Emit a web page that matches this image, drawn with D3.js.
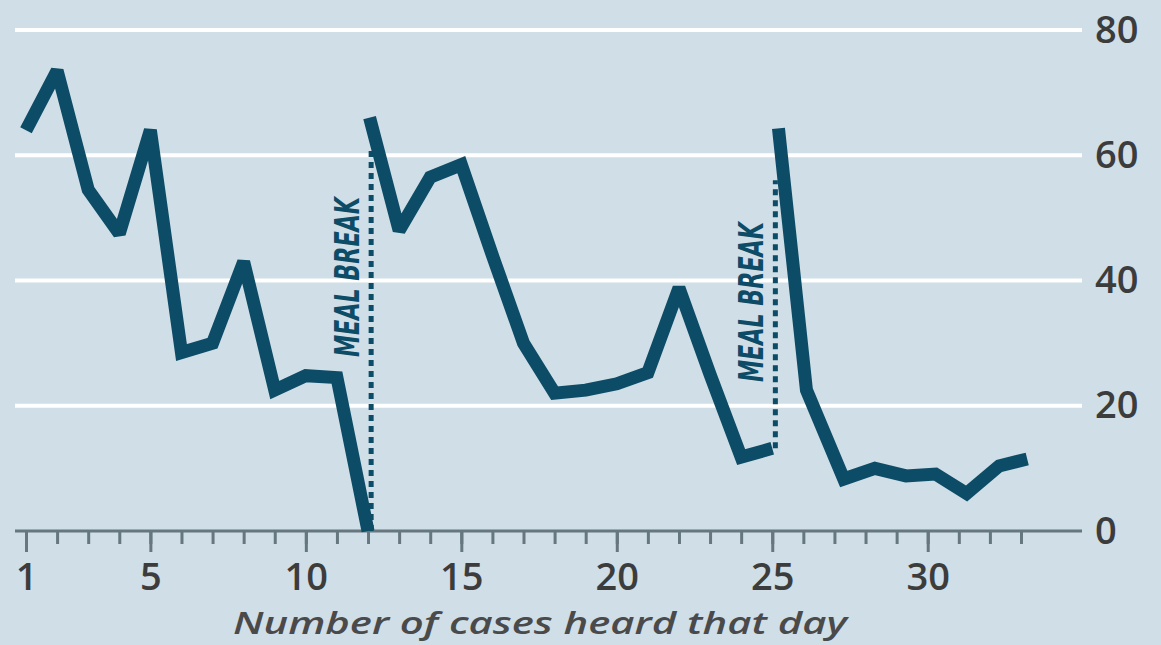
<!DOCTYPE html>
<html>
<head>
<meta charset="utf-8">
<script src="https://cdn.jsdelivr.net/npm/d3@7"></script>
<style>
  html, body { margin: 0; padding: 0; background: #cfdee7; }
  svg { display: block; }
</style>
</head>
<body>
<div id="chart"></div>
<script>
// Dados

let seg1_cases = [1, 2, 3, 4, 5, 6, 7, 8, 9, 10, 11, 12];
let seg1_values = [64, 73.5, 54.5, 47.5, 64, 28.5, 30, 43, 22.5, 24.8, 24.5, 0];

let seg2_cases = [12.05, 13, 14, 15, 16, 17, 18, 19, 20, 21, 22, 23, 24, 25];
let seg2_values = [66, 48, 56.5, 58.5, 44, 30, 22, 22.5, 23.5, 25.3, 38.8, 25, 11.8, 13.2];

let seg3_cases = [25.2, 26.1, 27.3, 28.3, 29.3, 30.25, 31.25, 32.3, 33.2];
let seg3_values = [64.3, 22.5, 8.3, 10, 8.8, 9.1, 6, 10.4, 11.5];

let break_cases = [12.1, 25.1];
let break_from = [0, 13.2];
let break_to = [61, 56];
let break_label = ["MEAL BREAK", "MEAL BREAK"];
let break_label_y = [277, 302];

let x_ticks_minor = d3.range(1, 34);
let x_ticks_major = [1, 5, 10, 15, 20, 25, 30];
let y_ticks = [0, 20, 40, 60, 80];
let x_title = "Number of cases heard that day";

// Canvas

let width = 1161;
let height = 645;
let line_color = "#0d4c66";
let axis_color = "#66777f";
let text_color = "#3c3c3c";

let svg = d3.select("#chart")
    .append("svg")
    .attr("width", width)
    .attr("height", height);

svg.append("rect")
    .attr("width", width)
    .attr("height", height)
    .attr("fill", "#cfdee7");

// Escalas

let x = d3.scaleLinear().domain([1, 33]).range([26, 1021]);
let y = d3.scaleLinear().domain([0, 80]).range([531, 30]);
let grid_left = 15, grid_right = 1082;

// Grade horizontal

svg.append("g")
    .selectAll("line")
    .data(y_ticks.filter(d => d > 0))
    .enter()
    .append("line")
    .attr("x1", grid_left)
    .attr("x2", grid_right)
    .attr("y1", d => y(d))
    .attr("y2", d => y(d))
    .attr("stroke", "#ffffff")
    .attr("stroke-width", 4);

// Eixo y (direita)

let y_axis = svg.append("g")
    .attr("transform", `translate(${grid_right},0)`)
    .call(d3.axisRight(y).tickValues(y_ticks).tickSize(0).tickPadding(13));
y_axis.select(".domain").remove();
y_axis.selectAll("text")
    .attr("font-family", "'Open Sans', sans-serif")
    .attr("font-size", 38)
    .attr("font-weight", 600)
    .attr("fill", text_color);

// Eixo x

let x_minor = svg.append("g")
    .attr("transform", `translate(0,${y(0)})`)
    .call(d3.axisBottom(x).tickValues(x_ticks_minor).tickSize(13).tickFormat(""));
x_minor.select(".domain").remove();
x_minor.selectAll("line").attr("stroke", axis_color).attr("stroke-width", 3);

let x_major = svg.append("g")
    .attr("transform", `translate(0,${y(0)})`)
    .call(d3.axisBottom(x).tickValues(x_ticks_major).tickSize(21).tickPadding(11).tickFormat(d3.format("d")));
x_major.select(".domain").remove();
x_major.selectAll("line").attr("stroke", axis_color).attr("stroke-width", 3);
x_major.selectAll("text")
    .attr("font-family", "'Open Sans', sans-serif")
    .attr("font-size", 38)
    .attr("font-weight", 600)
    .attr("fill", text_color);

svg.append("line")
    .attr("x1", grid_left)
    .attr("x2", grid_right)
    .attr("y1", y(0))
    .attr("y2", y(0))
    .attr("stroke", axis_color)
    .attr("stroke-width", 3);

svg.append("text")
    .text(x_title)
    .attr("x", 540)
    .attr("y", 634)
    .attr("text-anchor", "middle")
    .attr("font-family", "'Open Sans', sans-serif")
    .attr("font-style", "italic")
    .attr("font-weight", 600)
    .attr("font-size", 31)
    .attr("textLength", 614)
    .attr("lengthAdjust", "spacingAndGlyphs")
    .attr("fill", "#4a4a4a");

// Linhas tracejadas (intervalo)

break_cases.forEach((c, i) => {
    svg.append("line")
        .attr("x1", x(c))
        .attr("x2", x(c))
        .attr("y1", y(break_from[i]))
        .attr("y2", y(break_to[i]))
        .attr("stroke", line_color)
        .attr("stroke-width", 5)
        .attr("stroke-dasharray", "6,5");

    svg.append("text")
        .text(break_label[i])
        .attr("transform", `translate(${x(c) - 12},${break_label_y[i]}) rotate(-90)`)
        .attr("text-anchor", "middle")
        .attr("font-family", "'Liberation Sans Narrow', 'DejaVu Sans Condensed', sans-serif")
        .attr("font-style", "italic")
        .attr("font-weight", 700)
        .attr("font-size", 34)
        .attr("textLength", 160)
        .attr("lengthAdjust", "spacingAndGlyphs")
        .attr("fill", line_color);
});

// Linhas de dados

let line = d3.line().x(d => x(d[0])).y(d => y(d[1]));
let segments = [
    d3.zip(seg1_cases, seg1_values),
    d3.zip(seg2_cases, seg2_values),
    d3.zip(seg3_cases, seg3_values)
];

svg.selectAll("path.serie")
    .data(segments)
    .enter()
    .append("path")
    .attr("class", "serie")
    .attr("d", line)
    .attr("fill", "none")
    .attr("stroke", line_color)
    .attr("stroke-width", 13)
    .attr("stroke-linejoin", "miter")
    .attr("stroke-miterlimit", 2);
</script>
</body>
</html>
